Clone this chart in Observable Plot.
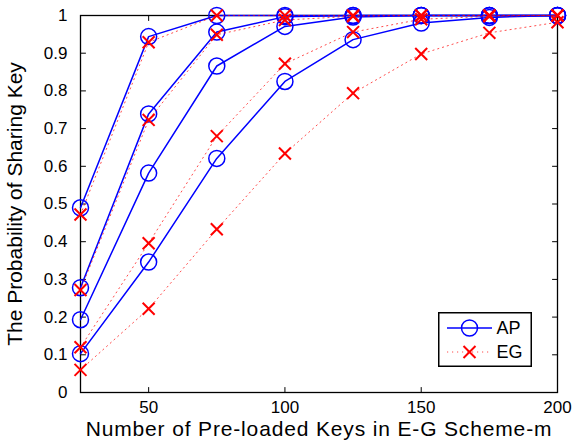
<!DOCTYPE html>
<html><head><meta charset="utf-8">
<script src="https://cdn.jsdelivr.net/npm/d3@7"></script>
<script src="https://cdn.jsdelivr.net/npm/@observablehq/plot@0.6"></script>
<style>
html,body{margin:0;padding:0;background:#fff;}
#chart{position:relative;width:572px;height:443px;font-family:"Liberation Sans",Arial,sans-serif;}
#legend{position:absolute;left:438px;top:312px;}
.xtitle text{letter-spacing:0.85px;}
</style></head><body><div id="chart"></div>
<script>
// Number of pre-loaded keys (x values)
const keys = [25, 50, 75, 100, 125, 150, 175, 200];
// AP curves (blue, circles)
const ap1 = [0.49, 0.944, 1, 1, 1, 1, 1, 1];
const ap2 = [0.278, 0.739, 0.956, 0.997, 1, 1, 1, 1];
const ap3 = [0.193, 0.582, 0.866, 0.971, 0.996, 1, 1, 1];
const ap4 = [0.103, 0.346, 0.621, 0.825, 0.936, 0.98, 0.995, 1];
// EG curves (red dotted, crosses)
const eg1 = [0.472, 0.929, 1, 1, 1, 1, 1, 1];
const eg2 = [0.272, 0.723, 0.949, 0.988, 0.998, 1, 1, 1];
const eg3 = [0.12, 0.396, 0.68, 0.872, 0.956, 0.99, 0.998, 1];
const eg4 = [0.06, 0.222, 0.433, 0.634, 0.794, 0.898, 0.954, 0.982];
// ticks
const xTicks = [50, 100, 150, 200];
const yTicks = [0, 0.1, 0.2, 0.3, 0.4, 0.5, 0.6, 0.7, 0.8, 0.9, 1];
const yTickLabels = ["0", "0.1", "0.2", "0.3", "0.4", "0.5", "0.6", "0.7", "0.8", "0.9", "1"];
const xTitle = "Number of Pre-loaded Keys in E-G Scheme-m";
const yTitle = "The Probability of Sharing Key";
const seriesNames = ["AP", "EG"];

const BLUE = "#0000ff", RED = "#ff0000";
const FONT = "'Liberation Sans', Arial, sans-serif";

function rows(list, prefix) {
  const out = [];
  list.forEach((vals, k) => vals.forEach((v, i) => out.push({x: keys[i], y: v, s: prefix + k})));
  return out;
}
const apRows = rows([ap1, ap2, ap3, ap4], "AP");
const egRows = rows([eg1, eg2, eg3, eg4], "EG");

const tickShape = {draw(ctx, l) { ctx.moveTo(0, 0); ctx.lineTo(0, -l); }};
const tickOpts = {length: 5, anchor: "start", shape: tickShape, stroke: "black", strokeWidth: 1};

const chart = Plot.plot({
  width: 572, height: 443,
  marginLeft: 80, marginRight: 15, marginTop: 15, marginBottom: 51,
  style: {fontFamily: FONT, background: "white", color: "black"},
  x: {domain: [25, 200]},
  y: {domain: [0, 1]},
  marks: [
    Plot.axisX({ticks: xTicks, tickSize: 0, tickPadding: 8, fontSize: 17, label: null}),
    Plot.axisY({ticks: yTicks, tickSize: 0, tickPadding: 13, fontSize: 17, label: null,
      tickFormat: d => yTickLabels[yTicks.findIndex(t => Math.abs(t - d) < 1e-9)]}),
    Plot.vector(yTicks, {y: d => d, frameAnchor: "left", rotate: 90, ...tickOpts}),
    Plot.vector(yTicks, {y: d => d, frameAnchor: "right", rotate: -90, ...tickOpts}),
    Plot.vector(xTicks, {x: d => d, frameAnchor: "bottom", rotate: 0, ...tickOpts}),
    Plot.vector(xTicks, {x: d => d, frameAnchor: "top", rotate: 180, ...tickOpts}),
    Plot.frame({stroke: "black", strokeWidth: 1.3}),
    Plot.line(apRows, {x: "x", y: "y", z: "s", stroke: BLUE, strokeWidth: 1.5}),
    Plot.dot(apRows, {x: "x", y: "y", r: 8, stroke: BLUE, strokeWidth: 1.5, fill: "none"}),
    Plot.line(egRows, {x: "x", y: "y", z: "s", stroke: RED, strokeOpacity: 0.7, strokeWidth: 1, strokeDasharray: "1.2,3.8"}),
    Plot.dot(egRows, {x: "x", y: "y", symbol: "times", r: 5.5, stroke: RED, strokeWidth: 2}),
    Plot.text([xTitle], {text: d => d, frameAnchor: "bottom", textAnchor: "middle", lineAnchor: "middle",
      dy: 37, fontSize: 21, fill: "black", className: "xtitle"}),
    Plot.text([yTitle], {text: d => d, frameAnchor: "left", textAnchor: "middle", lineAnchor: "middle",
      rotate: -90, dx: -65, fontSize: 21, fill: "black"})
  ]
});
const host = document.getElementById("chart");
host.appendChild(chart);

// Legend (inside the plot area, lower right)
const lw = 94, lh = 55;
const leg = d3.select(host).append("svg").attr("id", "legend")
  .attr("width", lw).attr("height", lh);
leg.append("rect").attr("x", 0.75).attr("y", 0.75).attr("width", lw - 1.5).attr("height", lh - 1.5)
  .attr("fill", "white").attr("stroke", "black").attr("stroke-width", 1.5);
seriesNames.forEach((name, i) => {
  const cy = 16 + i * 24;
  const g = leg.append("g").attr("transform", `translate(0,${cy})`);
  if (i === 0) {
    g.append("line").attr("x1", 9).attr("x2", 54).attr("stroke", BLUE).attr("stroke-width", 1.5);
    g.append("circle").attr("cx", 31.5).attr("r", 8).attr("fill", "none").attr("stroke", BLUE).attr("stroke-width", 1.5);
  } else {
    g.append("line").attr("x1", 9).attr("x2", 54).attr("stroke", RED).attr("stroke-opacity", 0.7)
      .attr("stroke-width", 1).attr("stroke-dasharray", "1.2,3.8");
    g.append("path").attr("d", "M25.5,-6L37.5,6M25.5,6L37.5,-6").attr("stroke", RED).attr("stroke-width", 2);
  }
  g.append("text").attr("x", 58.5).attr("y", 0).attr("dy", "0.35em").attr("font-size", 18)
    .attr("font-family", FONT).attr("fill", "black").text(name);
});
</script>
</body></html>
